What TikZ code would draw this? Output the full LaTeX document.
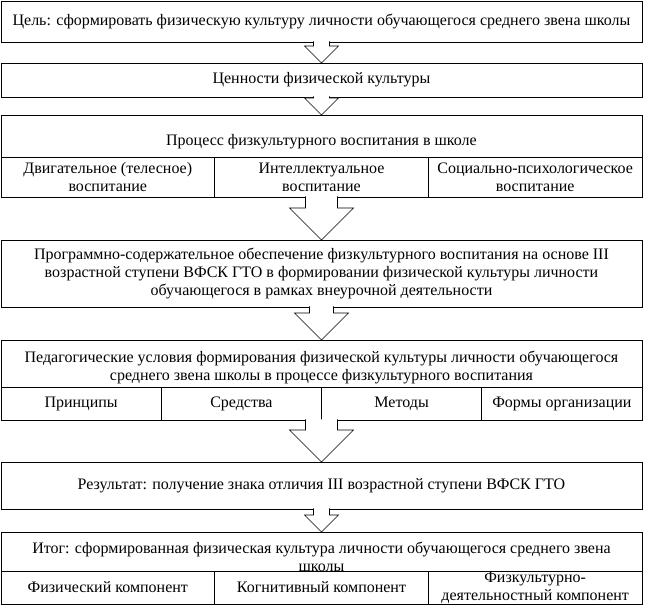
\documentclass[tikz,border=0pt]{standalone}
\usepackage{fontspec}
\setmainfont{Liberation Serif}
\usetikzlibrary{calc}

\tikzset{
  cell/.style={draw, line width=0.9pt, inner sep=0pt, outer sep=0pt, align=center},
  txt/.style={inner sep=0pt, align=center},
  hollow/.style={draw, fill=white, line width=0.6pt},
}

% block arrow: from, to, half shaft width, half head width
\newcommand{\hollowarrow}[4]{%
  \path[hollow] let \p1=(#1.south), \p2=(#2.north) in
    (\x2-#3,\y1+0.6pt) -- (\x2-#3,\y2+#4) -- (\x2-#4,\y2+#4) -- (\x2,\y2)
    -- (\x2+#4,\y2+#4) -- (\x2+#3,\y2+#4) -- (\x2+#3,\y1+0.6pt);}

\begin{document}
\begin{tikzpicture}[x=1pt, y=-1pt]
\useasboundingbox (0,0) rectangle (646,607);
{\fontsize{16}{18}\selectfont

% Goal
\node[cell, minimum width=641pt, minimum height=41pt] (goal) at (321.5,21.5)
  {Цель: сформировать физическую культуру личности обучающегося среднего звена школы};

% Values
\node[cell, minimum width=641pt, minimum height=34pt] (values) at (321.5,80)
  {Ценности физической культуры};

% Process of education
\node[cell, minimum width=641pt, minimum height=42pt] (proc) at (321.5,136) {};
\node[txt] (proc title) at (321.5,142) {Процесс физкультурного воспитания в школе};
\node[cell, minimum width=213.67pt, minimum height=40pt] (proc a) at (107.8,177)
  {Двигательное (телесное)\\воспитание};
\node[cell, minimum width=213.67pt, minimum height=40pt] (proc b) at (321.5,177)
  {Интеллектуальное\\воспитание};
\node[cell, minimum width=213.67pt, minimum height=40pt] (proc c) at (535.2,177)
  {Социально-психологическое\\воспитание};

% Programme
\node[cell, minimum width=641pt, minimum height=67pt] (prog) at (321.5,273.5)
  {Программно-содержательное обеспечение физкультурного воспитания на основе III\\
   возрастной ступени ВФСК ГТО в формировании физической культуры личности\\
   обучающегося в рамках внеурочной деятельности};

% Pedagogical conditions
\node[cell, minimum width=641pt, minimum height=47pt] (ped) at (321.5,363.5) {};
\node[txt] (ped title) at (321.5,367) {Педагогические условия формирования физической культуры личности обучающегося\\
   среднего звена школы в процессе физкультурного воспитания};
\node[cell, minimum width=160.25pt, minimum height=33pt] (ped a) at (81.1,403.5) {Принципы};
\node[cell, minimum width=160.25pt, minimum height=33pt] (ped b) at (241.4,403.5) {Средства};
\node[cell, minimum width=160.25pt, minimum height=33pt] (ped c) at (401.6,403.5) {Методы};
\node[cell, minimum width=160.25pt, minimum height=33pt] (ped d) at (561.9,403.5) {Формы организации};

% Result
\node[cell, minimum width=641pt, minimum height=47pt] (result) at (321.5,485.5)
  {Результат: получение знака отличия III возрастной ступени ВФСК ГТО};

% Outcome
\node[cell, minimum width=641pt, minimum height=39pt] (outcome) at (321.5,551.5) {};
\node[txt] (outcome title) at (321.5,557) {Итог: сформированная физическая культура личности обучающегося среднего звена\\
   школы};
\node[cell, minimum width=213.67pt, minimum height=33pt] (outcome a) at (107.8,587.5)
  {Физический компонент};
\node[cell, minimum width=213.67pt, minimum height=33pt] (outcome b) at (321.5,587.5)
  {Когнитивный компонент};
\node[cell, minimum width=213.67pt, minimum height=33pt] (outcome c) at (535.2,587.5)
  {Физкультурно-\\деятельностный компонент};

% Arrows
\hollowarrow{goal}{values}{8pt}{17pt}
\hollowarrow{values}{proc}{8pt}{17pt}
\hollowarrow{proc b}{prog}{16pt}{32pt}
\hollowarrow{prog}{ped}{12pt}{27pt}
\hollowarrow{ped b}{result}{16pt}{32pt}
\hollowarrow{result}{outcome}{8pt}{17pt}
}
\end{tikzpicture}
\end{document}
